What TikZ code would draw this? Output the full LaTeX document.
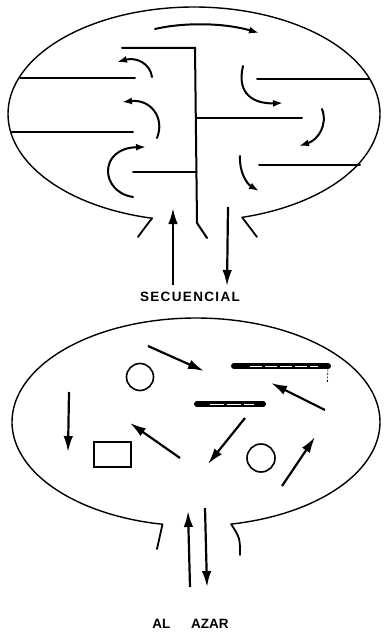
\documentclass[tikz,border=0pt]{standalone}
\usepackage{fontspec}
\setmainfont{Liberation Sans}
\usetikzlibrary{arrows.meta}
\tikzset{
  outline/.style={line width=1.4pt, line join=round, line cap=round},
  wall/.style={line width=2pt, line cap=round, line join=miter},
  curvarrow/.style={line width=2pt, line cap=round, -{Latex[length=10pt,width=7pt]}},
  bigarrow/.style={line width=2.2pt, -{Latex[length=16pt,width=9.5pt]}},
  shapeline/.style={line width=1.6pt},
  label/.style={font=\bfseries\fontsize{13.5}{15}\selectfont, inner sep=0pt}
}
\begin{document}
\begin{tikzpicture}[x=1pt,y=-1pt]
\useasboundingbox (0,0) rectangle (386,636);
\fill[white] (0,0) rectangle (386,636);
% ===================== TOP: SECUENCIAL =====================
% vessel outline
\draw[outline] plot[domain=285:617, samples=160, smooth] ({194+186*cos(\x)}, {114-107*sin(\x)});
\coordinate (tlneck) at ({194+186*cos(617)}, {114-107*sin(617)});
\coordinate (trneck) at ({194+186*cos(285)}, {114-107*sin(285)});
\coordinate (tlflare) at (138,237);
\coordinate (trflare) at (257,237);
\draw[outline, line width=1.8pt] (tlneck) .. controls (146,226) .. (tlflare);
\draw[outline, line width=1.8pt] (trneck) .. controls (250,227) .. (trflare);
% central T structure
\coordinate (ttl) at (122,48);
\coordinate (ttc) at (195,48);
\coordinate (tvb) at (197,223);
\coordinate (tve) at (207,238);
\draw[wall] (ttl) -- (ttc) -- (tvb) -- (tve);
\coordinate (tmid1) at (196.3,118);
\coordinate (tmid2) at (302,118);
\draw[wall] (tmid1) -- (tmid2);
\coordinate (tlow1) at (133,172);
\coordinate (tlow2) at (196.6,172);
\draw[wall] (tlow1) -- (tlow2);
% side walls
\coordinate (lw1a) at (20,78);  \coordinate (lw1b) at (135,78);
\coordinate (lw2a) at (11,132); \coordinate (lw2b) at (133,132);
\coordinate (rw1a) at (257,79); \coordinate (rw1b) at (369,79);
\coordinate (rw2a) at (259,165); \coordinate (rw2b) at (360,165);
\draw[wall] (lw1a) -- (lw1b);
\draw[wall] (lw2a) -- (lw2b);
\draw[wall] (rw1a) -- (rw1b);
\draw[wall] (rw2a) -- (rw2b);
% curved flow arrows
\draw[curvarrow] (155,29) .. controls (185,22) and (225,23) .. (259,33);
\draw[curvarrow] (152,77) .. controls (150,63) and (136,57) .. (117,62);
\draw[curvarrow] (157,138) .. controls (165,118) and (151,99) .. (122,102);
\draw[curvarrow] (133,197) .. controls (100,192) and (98,148) .. (146,147);
\draw[curvarrow] (243,66) .. controls (236,95) and (255,104) .. (283,103);
\draw[curvarrow] (322,109) .. controls (328,125) and (318,140) .. (299,146);
\draw[curvarrow] (240,156) .. controls (239,172) and (247,184) .. (259,191);
% in / out arrows
\coordinate (tin0) at (173,285);  \coordinate (tin1) at (173,208);
\coordinate (tout0) at (228,207); \coordinate (tout1) at (227,286);
\draw[bigarrow] (tin0) -- (tin1);
\draw[bigarrow] (tout0) -- (tout1);
\node[label] (seq) at (190,297) {\addfontfeature{LetterSpace=10}SECUENCIAL};
% ===================== BOTTOM: AL AZAR =====================
\draw[outline] plot[domain=281:619.5, samples=160, smooth] ({196+184*cos(\x)}, {422-104*sin(\x)});
\coordinate (blneck) at ({196+184*cos(619.5)}, {422-104*sin(619.5)});
\coordinate (brneck) at ({196+184*cos(281)}, {422-104*sin(281)});
\coordinate (blflare) at (157,549);
\coordinate (brflare) at (240,555);
\draw[outline, line width=1.8pt] (blneck) .. controls (159,536) .. (blflare);
\draw[outline, line width=1.8pt] (brneck) .. controls (240,538) .. (brflare);
% objects
\node[draw, circle, shapeline, minimum size=27pt, inner sep=0pt] (c1) at (140,377) {};
\node[draw, circle, shapeline, minimum size=28pt, inner sep=0pt] (c2) at (261,458) {};
\node[draw, rectangle, shapeline, minimum width=37pt, minimum height=25pt, inner sep=0pt] (r1) at (112.5,454.5) {};
% bars
\coordinate (b1a) at (234,366); \coordinate (b1b) at (328,366);
\coordinate (b2a) at (197,404); \coordinate (b2b) at (263,404);
\draw[line width=6pt, line cap=round] (b1a) -- (b1b);
\draw[white, line width=0.8pt, dash pattern=on 12pt off 3pt] (250,366) -- (318,366);
\draw[line width=6pt, line cap=round] (b2a) -- (b2b);
\draw[white, line width=0.8pt, dash pattern=on 14pt off 3pt] (210,404) -- (254,404);
\coordinate (b1t) at (327.5,382);
\draw[line width=0.7pt, dash pattern=on 2pt off 1.5pt] (b1b) -- (b1t);
% random arrows
\draw[bigarrow] (148,346) -- (204,371);
\draw[bigarrow] (325,410) -- (271,383);
\draw[bigarrow] (69,392) -- (68,452);
\draw[bigarrow] (180,458) -- (130,423);
\draw[bigarrow] (245,418) -- (208,464);
\draw[bigarrow] (282,486) -- (315,437);
% in / out arrows
\coordinate (bin0) at (190,587);  \coordinate (bin1) at (188,511);
\coordinate (bout0) at (205,508); \coordinate (bout1) at (207,587);
\draw[bigarrow] (bin0) -- (bin1);
\draw[bigarrow] (bout0) -- (bout1);
\node[label] (azar) at (190.5,624) {AL\hspace{21pt}AZAR};
\end{tikzpicture}
\end{document}
